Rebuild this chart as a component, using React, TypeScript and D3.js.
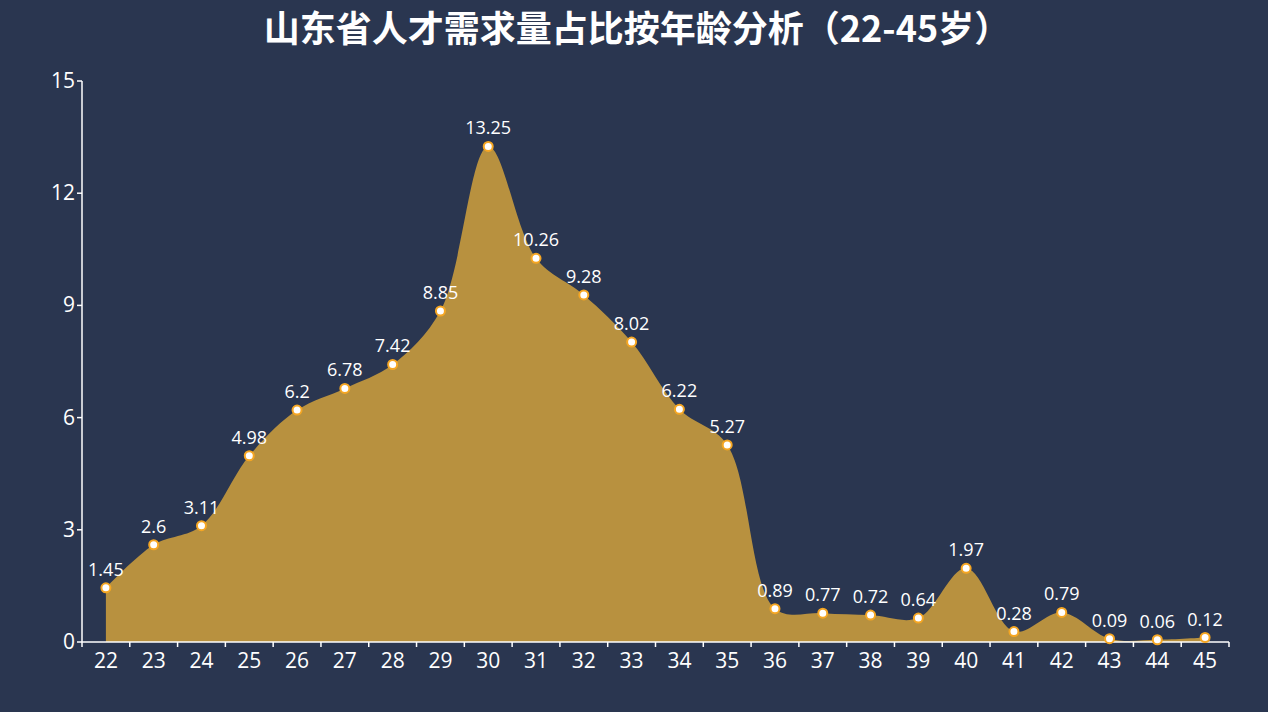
import React from "react";
import * as d3 from "d3";

const ages: string[] = ["22","23","24","25","26","27","28","29","30","31","32","33","34","35","36","37","38","39","40","41","42","43","44","45"];
const shares: number[] = [1.45,2.6,3.11,4.98,6.2,6.78,7.42,8.85,13.25,10.26,9.28,8.02,6.22,5.27,0.89,0.77,0.72,0.64,1.97,0.28,0.79,0.09,0.06,0.12];
const yTicks: number[] = [0,3,6,9,12,15];
const title = "山东省人才需求量占比按年龄分析（22-45岁）";

const W = 1268, H = 712;
const left = 82, right = 1229, top = 81, bottom = 642;
const font = "'Open Sans', 'Noto Sans', 'Noto Sans CJK SC', sans-serif";

export default function App() {
  const x = d3.scaleBand<string>().domain(ages).range([left, right]).padding(0);
  const y = d3.scaleLinear().domain([0, 15]).range([bottom, top]);
  const cx = (a: string) => (x(a) as number) + x.bandwidth() / 2;
  const data = ages.map((a, i) => ({ a, v: shares[i] }));
  const area = d3.area<{ a: string; v: number }>()
    .x(d => cx(d.a))
    .y0(y(0))
    .y1(d => y(d.v))
    .curve(d3.curveCatmullRom.alpha(0.5));
  const boundaries = ages.map(a => x(a) as number).concat([right]);
  return (
    <svg width={W} height={H} style={{ position: "fixed", left: 0, top: 0, background: "#2a3650" }}>
      <rect x={0} y={0} width={W} height={H} fill="#2a3650" />
      <text x={637} y={42} textAnchor="middle" fill="#ffffff" fontSize={36} fontWeight="bold" fontFamily="'Noto Sans CJK SC', sans-serif">{title}</text>
      <path d={area(data) || ""} fill="#b8913f" />
      <line x1={left} x2={left} y1={top} y2={bottom} stroke="#fff" strokeWidth={1.5} />
      {yTicks.map(t => (
        <g key={t}>
          <line x1={left - 5} x2={left} y1={y(t)} y2={y(t)} stroke="#fff" strokeWidth={1.5} />
          <text x={left - 7} y={y(t) + 7} textAnchor="end" fill="#fff" fontSize={21} fontFamily={font}>{t}</text>
        </g>
      ))}
      <line x1={left} x2={right} y1={bottom} y2={bottom} stroke="#fff" strokeWidth={1.5} />
      {boundaries.map((b, i) => (
        <line key={i} x1={b} x2={b} y1={bottom} y2={bottom + 5} stroke="#fff" strokeWidth={1.5} />
      ))}
      {ages.map(a => (
        <text key={a} x={cx(a)} y={bottom + 26} textAnchor="middle" fill="#fff" fontSize={21} fontFamily={font}>{a}</text>
      ))}
      {data.map(d => (
        <g key={d.a}>
          <circle cx={cx(d.a)} cy={y(d.v)} r={4.5} fill="#fff" stroke="#f5a623" strokeWidth={2} />
          <text x={cx(d.a)} y={y(d.v) - 12} textAnchor="middle" fill="#fff" fontSize={18} fontFamily={font}>{String(d.v)}</text>
        </g>
      ))}
    </svg>
  );
}
